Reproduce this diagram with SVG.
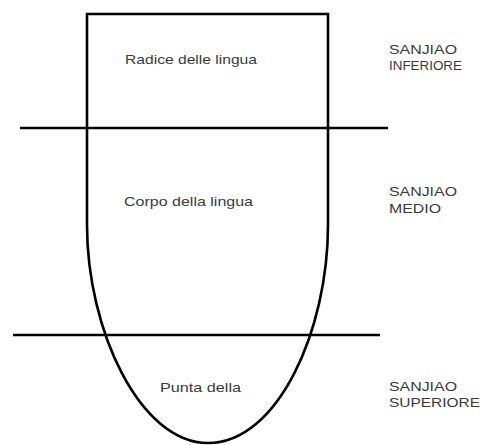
<svg xmlns="http://www.w3.org/2000/svg" width="483" height="445" viewBox="0 0 483 445">
<style>
.ln{fill:none;stroke:#000;stroke-width:2.6}
.t{font-family:"Liberation Sans",Arial,sans-serif;font-size:13.5px;fill:#3a3a3a}
</style>
<rect width="483" height="445" fill="#fff"/>
<g id="tongue">
<path class="ln" d="M87,14 L87,225 C87,330 140,443 208,443 C278,443 328,330 328,225 L328,14 Z"/>
</g>
<g id="connectors">
<line class="ln" x1="20" y1="128" x2="388" y2="128"/>
<line class="ln" x1="13" y1="335" x2="380" y2="335"/>
</g>
<g id="radice"><text class="t" x="125" y="64" textLength="132" lengthAdjust="spacingAndGlyphs">Radice delle lingua</text></g>
<g id="corpo"><text class="t" x="124" y="206" textLength="129" lengthAdjust="spacingAndGlyphs">Corpo della lingua</text></g>
<g id="punta"><text class="t" x="160" y="392" textLength="81" lengthAdjust="spacingAndGlyphs">Punta della</text></g>
<g id="inferiore">
<text class="t" x="389" y="54" textLength="68" lengthAdjust="spacingAndGlyphs">SANJIAO</text>
<text class="t" x="389" y="70" textLength="73" lengthAdjust="spacingAndGlyphs">INFERIORE</text>
</g>
<g id="medio">
<text class="t" x="389" y="196" textLength="68" lengthAdjust="spacingAndGlyphs">SANJIAO</text>
<text class="t" x="389" y="213" textLength="52" lengthAdjust="spacingAndGlyphs">MEDIO</text>
</g>
<g id="superiore">
<text class="t" x="389" y="391" textLength="68" lengthAdjust="spacingAndGlyphs">SANJIAO</text>
<text class="t" x="389" y="407" textLength="91" lengthAdjust="spacingAndGlyphs">SUPERIORE</text>
</g>
</svg>
